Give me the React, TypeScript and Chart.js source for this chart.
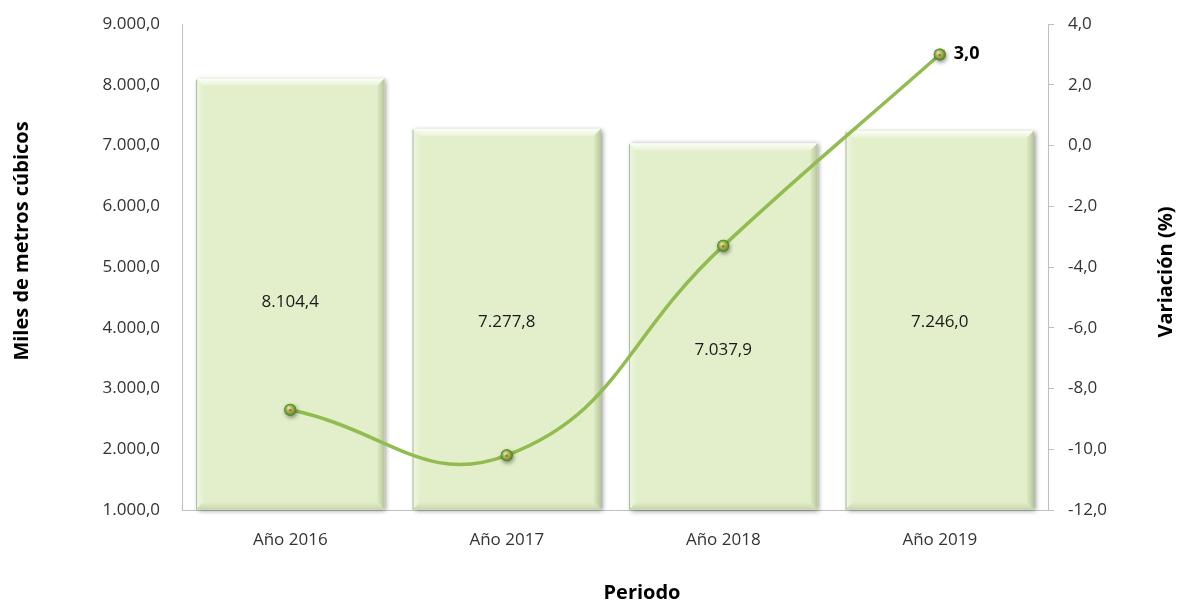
import React, { useEffect, useRef } from "react";
import { Chart, registerables } from "chart.js";

Chart.register(...registerables);

const categories = ["Año 2016", "Año 2017", "Año 2018", "Año 2019"];
const volumes = [8104.4, 7277.8, 7037.9, 7246.0];
const variation = [-8.7, -10.2, -3.3, 3.0];
const leftAxis = { min: 1000, max: 9000, step: 1000 };
const rightAxis = { min: -12, max: 4, step: 2 };
const leftTitle = "Miles de metros cúbicos";
const rightTitle = "Variación (%)";
const xTitle = "Periodo";

const labelShift = [8, 3, 24, 2];

const FONT = "'Open Sans', sans-serif";

function fmt(v: number): string {
  const neg = v < 0;
  const s = Math.abs(v).toFixed(1);
  const [i, d] = s.split(".");
  const ig = i.replace(/\B(?=(\d{3})+(?!\d))/g, ".");
  return (neg ? "-" : "") + ig + "," + d;
}

const decorPlugin = {
  id: "decor",
  beforeDatasetDraw(chart: any, args: any) {
    if (args.index !== 0) return;
    const ctx = chart.ctx;
    const meta = chart.getDatasetMeta(0);
    ctx.save();
    ctx.shadowColor = "rgba(0,0,0,0.45)";
    ctx.shadowBlur = 5;
    ctx.shadowOffsetX = 2;
    ctx.shadowOffsetY = 1;
    ctx.fillStyle = "#e2efca";
    meta.data.forEach((el: any) => {
      const w = el.width;
      ctx.fillRect(el.x - w / 2, el.y, w, el.base - el.y);
    });
    ctx.restore();
  },
  afterDatasetDraw(chart: any, args: any) {
    const ctx = chart.ctx;
    if (args.index === 0) {
      const meta = chart.getDatasetMeta(0);
      const b = 7;
      meta.data.forEach((el: any) => {
        const l = el.x - el.width / 2;
        const r = el.x + el.width / 2;
        const t = el.y;
        const bot = el.base;
        ctx.save();
        let g = ctx.createLinearGradient(0, t, 0, t + b);
        g.addColorStop(0, "rgba(255,255,255,0.95)");
        g.addColorStop(1, "rgba(240,247,226,0.6)");
        ctx.fillStyle = g;
        ctx.beginPath();
        ctx.moveTo(l, t);
        ctx.lineTo(r, t);
        ctx.lineTo(r - b, t + b);
        ctx.lineTo(l + b, t + b);
        ctx.closePath();
        ctx.fill();
        g = ctx.createLinearGradient(l, 0, l + b, 0);
        g.addColorStop(0, "rgba(245,250,235,0.9)");
        g.addColorStop(1, "rgba(232,242,212,0.4)");
        ctx.fillStyle = g;
        ctx.beginPath();
        ctx.moveTo(l, t);
        ctx.lineTo(l + b, t + b);
        ctx.lineTo(l + b, bot - b);
        ctx.lineTo(l, bot);
        ctx.closePath();
        ctx.fill();
        g = ctx.createLinearGradient(r - b, 0, r, 0);
        g.addColorStop(0, "rgba(214,228,188,0.6)");
        g.addColorStop(1, "rgba(176,192,150,0.95)");
        ctx.fillStyle = g;
        ctx.beginPath();
        ctx.moveTo(r, t);
        ctx.lineTo(r, bot);
        ctx.lineTo(r - b, bot - b);
        ctx.lineTo(r - b, t + b);
        ctx.closePath();
        ctx.fill();
        g = ctx.createLinearGradient(0, bot - b, 0, bot);
        g.addColorStop(0, "rgba(222,234,198,0.6)");
        g.addColorStop(1, "rgba(196,210,170,0.95)");
        ctx.fillStyle = g;
        ctx.beginPath();
        ctx.moveTo(l, bot);
        ctx.lineTo(l + b, bot - b);
        ctx.lineTo(r - b, bot - b);
        ctx.lineTo(r, bot);
        ctx.closePath();
        ctx.fill();
        ctx.strokeStyle = "rgba(120,135,100,0.55)";
        ctx.lineWidth = 1;
        ctx.beginPath();
        ctx.moveTo(l + 0.5, t + 1);
        ctx.lineTo(l + 0.5, bot);
        ctx.stroke();
        ctx.restore();
      });
    } else if (args.index === 1) {
      const meta = chart.getDatasetMeta(1);
      meta.data.forEach((el: any) => {
        const x = el.x;
        const y = el.y;
        const rad = 6;
        ctx.save();
        ctx.shadowColor = "rgba(0,0,0,0.45)";
        ctx.shadowBlur = 4;
        ctx.shadowOffsetX = 1;
        ctx.shadowOffsetY = 2;
        const g = ctx.createRadialGradient(x - 1.5, y - 2, 0.5, x, y, rad);
        g.addColorStop(0, "#d6eaa0");
        g.addColorStop(0.55, "#8db54a");
        g.addColorStop(1, "#557a1f");
        ctx.fillStyle = g;
        ctx.beginPath();
        ctx.arc(x, y, rad, 0, Math.PI * 2);
        ctx.fill();
        ctx.restore();
        ctx.save();
        ctx.fillStyle = "#e0504a";
        ctx.beginPath();
        ctx.arc(x, y + 0.5, 1.4, 0, Math.PI * 2);
        ctx.fill();
        ctx.restore();
      });
    }
  },
  afterDraw(chart: any) {
    const ctx = chart.ctx;
    ctx.save();
    const bars = chart.getDatasetMeta(0);
    ctx.font = `17px ${FONT}`;
    ctx.fillStyle = "#1a1a1a";
    ctx.textAlign = "center";
    ctx.textBaseline = "middle";
    bars.data.forEach((el: any, i: number) => {
      ctx.fillText(fmt(volumes[i]), el.x, (el.y + el.base) / 2 + labelShift[i]);
    });
    const pts = chart.getDatasetMeta(1);
    const last = pts.data.length - 1;
    const pe = pts.data[last];
    ctx.font = `bold 18px ${FONT}`;
    ctx.fillStyle = "#000";
    ctx.textAlign = "left";
    ctx.fillText(fmt(variation[last]), pe.x + 14, pe.y - 1);
    ctx.font = `bold 20px ${FONT}`;
    ctx.textAlign = "center";
    ctx.fillText(xTitle, 642, 593);
    ctx.save();
    ctx.translate(22, 241);
    ctx.rotate(-Math.PI / 2);
    ctx.fillText(leftTitle, 0, 0);
    ctx.restore();
    ctx.save();
    ctx.translate(1166, 272);
    ctx.rotate(-Math.PI / 2);
    ctx.fillText(rightTitle, 0, 0);
    ctx.restore();
    ctx.restore();
  },
};

export default function App() {
  const ref = useRef<HTMLCanvasElement | null>(null);
  useEffect(() => {
    if (!ref.current) return;
    const chart = new Chart(ref.current, {
      type: "bar",
      data: {
        labels: categories,
        datasets: [
          {
            type: "bar",
            label: "Volumen",
            data: volumes,
            base: leftAxis.min,
            backgroundColor: "#e2efca",
            borderWidth: 0,
            barPercentage: 0.87,
            categoryPercentage: 1,
            yAxisID: "y",
            order: 2,
          } as any,
          {
            type: "line",
            label: "Variación",
            data: variation,
            yAxisID: "y1",
            borderColor: "#92bb50",
            borderWidth: 3.5,
            tension: 0.45,
            pointRadius: 6,
            pointBackgroundColor: "#8db54a",
            pointBorderWidth: 0,
            order: 1,
          } as any,
        ],
      },
      options: {
        animation: false,
        responsive: false,
        maintainAspectRatio: false,
        layout: { padding: { top: 24, left: 0, right: 0, bottom: 0 } },
        plugins: {
          legend: { display: false },
          tooltip: { enabled: false },
        },
        scales: {
          x: {
            grid: { display: false },
            border: { display: true, color: "#bfbfbf", width: 1 },
            ticks: { font: { family: FONT, size: 17 }, color: "#333", padding: 12 },
            afterFit: (s: any) => {
              s.height = 94;
            },
          },
          y: {
            position: "left",
            min: leftAxis.min,
            max: leftAxis.max,
            grid: {
              display: true,
              drawOnChartArea: false,
              drawTicks: true,
              tickLength: 8,
              color: "rgba(0,0,0,0)",
            },
            border: { display: true, color: "#bfbfbf", width: 1 },
            ticks: {
              stepSize: leftAxis.step,
              font: { family: FONT, size: 17 },
              color: "#333",
              padding: 14,
              callback: (v: any) => fmt(Number(v)),
            },
            afterFit: (s: any) => {
              s.width = 182;
            },
          },
          y1: {
            position: "right",
            min: rightAxis.min,
            max: rightAxis.max,
            grid: {
              display: true,
              drawOnChartArea: false,
              drawTicks: true,
              tickLength: 6,
              color: "#bfbfbf",
            },
            border: { display: true, color: "#bfbfbf", width: 1 },
            ticks: {
              stepSize: rightAxis.step,
              font: { family: FONT, size: 17 },
              color: "#333",
              padding: 14,
              callback: (v: any) => fmt(Number(v)),
            },
            afterFit: (s: any) => {
              s.width = 130;
            },
          },
        },
      },
      plugins: [decorPlugin],
    });
    return () => chart.destroy();
  }, []);
  return (
    <div style={{ position: "fixed", left: 0, top: 0, width: 1178, height: 604, background: "#fff" }}>
      <canvas ref={ref} width={1178} height={604} style={{ display: "block" }} />
    </div>
  );
}
